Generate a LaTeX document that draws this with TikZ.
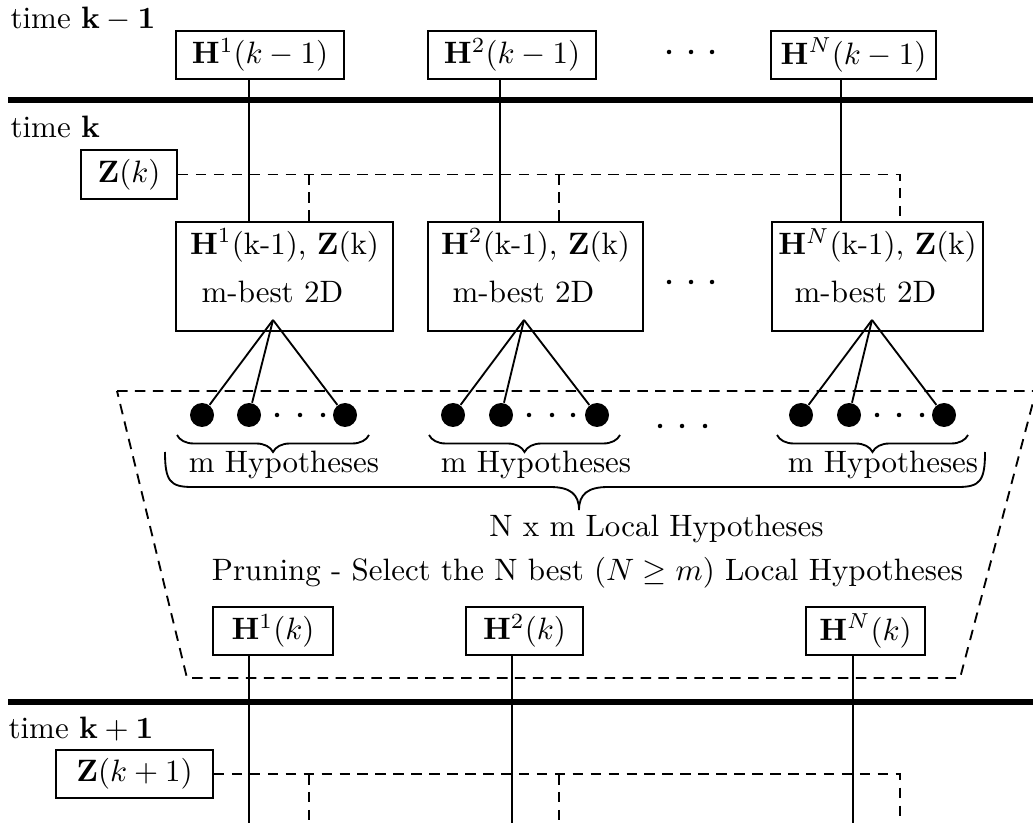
\documentclass[tikz,border=0pt]{standalone}
\usetikzlibrary{decorations.pathreplacing}
\newcommand\pxu{0.3233pt}
\tikzset{
  box/.style={draw, line width=0.6pt, inner sep=0pt, minimum height=48*\pxu},
  blk/.style={box, minimum height=109*\pxu, align=center, text depth=7pt},
  link/.style={line width=0.6pt},
  dsh/.style={line width=0.6pt, dash pattern=on 3.4pt off 2.4pt},
  bar/.style={line width=2pt},
  dot/.style={circle, fill, inner sep=0pt, minimum size=24*\pxu},
  sdot/.style={circle, fill, inner sep=0pt, minimum size=4.5*\pxu},
  brc/.style={line width=0.6pt, decorate, decoration={brace, mirror, amplitude=17*\pxu}},
  lbl/.style={inner sep=0pt, anchor=base},
}
\begin{document}
\begin{tikzpicture}[x=0.3233pt, y=-0.3233pt]
\useasboundingbox (0,0) rectangle (1033,823);
\clip (0,0) rectangle (1033,823);

% time separators
\draw[bar] (8,100) -- (1033,100);
\draw[bar] (8,702) -- (1033,702);

\node[lbl, anchor=base west] (tkm) at (10,29) {time $\mathbf{k-1}$};
\node[lbl, anchor=base west] (tk) at (10,138) {time $\mathbf{k}$};
\node[lbl, anchor=base west] (tkp) at (8,738) {time $\mathbf{k+1}$};

% hypotheses at time k-1
\node[box, minimum width=168*\pxu] (A1) at (260,55) {$\mathbf{H}^1(k-1)$};
\node[box, minimum width=168*\pxu] (A2) at (512,55) {$\mathbf{H}^2(k-1)$};
\node[box, minimum width=165*\pxu] (AN) at (853.5,55) {$\mathbf{H}^N(k-1)$};
\node[sdot] (ta) at (669,52) {};
\node[sdot] (tb) at (691,52) {};
\node[sdot] (tc) at (712,52) {};

% measurement at time k
\node[box, minimum width=96*\pxu, minimum height=49*\pxu] (Zk) at (129,174.5) {$\mathbf{Z}(k)$};

% m-best assignment blocks
\node[blk, minimum width=217*\pxu] (B1) at (284.5,276.5)
  {$\mathbf{H}^1$(k-1), $\mathbf{Z}$(k)\\[3.6pt] m-best 2D\hspace*{7.8pt}};
\node[blk, minimum width=215*\pxu] (B2) at (535.5,276.5)
  {$\mathbf{H}^2$(k-1), $\mathbf{Z}$(k)\\[3.6pt] m-best 2D\hspace*{7.8pt}};
\node[blk, minimum width=211*\pxu] (BN) at (877.5,276.5)
  {$\mathbf{H}^N$(k-1), $\mathbf{Z}$(k)\\[3.6pt] m-best 2D\hspace*{7.8pt}};
\node[sdot] (ma) at (669,282) {};
\node[sdot] (mb) at (691,282) {};
\node[sdot] (mc) at (712,282) {};

% solid links k-1 -> k
\coordinate (v1) at (249,0);
\coordinate (v2) at (500,0);
\coordinate (vN) at (841,0);
\draw[link] (A1.south -| v1) -- (B1.north -| v1);
\draw[link] (A2.south -| v2) -- (B2.north -| v2);
\draw[link] (AN.south -| vN) -- (BN.north -| vN);

% dashed measurement feed
\coordinate (x1) at (309,0);
\coordinate (x2) at (559,0);
\coordinate (xN) at (900,0);
\draw[dsh] (Zk.east) -| (BN.north -| xN);
\draw[dsh] (Zk.east -| x1) -- (B1.north -| x1);
\draw[dsh] (Zk.east -| x2) -- (B2.north -| x2);

% pruning region
\draw[dsh] (117,391) -- (1036,391) -- (960,678) -- (187,678) -- cycle;

% hypothesis fans
\coordinate (p1) at (273,320);
\coordinate (p2) at (524,320);
\coordinate (pN) at (872,320);
\node[dot] (d11) at (202,415) {};
\node[dot] (d12) at (249,415) {};
\node[dot] (d13) at (345,415) {};
\node[dot] (d21) at (453,415) {};
\node[dot] (d22) at (501,415) {};
\node[dot] (d23) at (597,415) {};
\node[dot] (dN1) at (801,415) {};
\node[dot] (dN2) at (849,415) {};
\node[dot] (dN3) at (944,415) {};
\foreach \g in {1,2,N}{
  \foreach \i in {1,2,3}{
    \draw[link] (p\g) -- (d\g\i);
  }
}
\node[sdot] (e11) at (277,415) {};
\node[sdot] (e12) at (300,415) {};
\node[sdot] (e13) at (323,415) {};
\node[sdot] (e21) at (529,415) {};
\node[sdot] (e22) at (552,415) {};
\node[sdot] (e23) at (573,415) {};
\node[sdot] (eN1) at (877,415) {};
\node[sdot] (eN2) at (899,415) {};
\node[sdot] (eN3) at (922,415) {};
\node[sdot] (ga) at (660,426) {};
\node[sdot] (gb) at (682,426) {};
\node[sdot] (gc) at (705,426) {};

% group braces
\draw[brc] (177,435) -- (369,435);
\draw[brc] (429,435) -- (620,435);
\draw[brc] (777,435) -- (968,435);
\node[lbl] (h1) at (284,473) {m Hypotheses};
\node[lbl] (h2) at (536,473) {m Hypotheses};
\node[lbl] (hN) at (883,473) {m Hypotheses};

% overall brace
\draw[link] (165,452) .. controls (165,481) and (170,487) .. (192,487)
  -- (550,487) .. controls (570,487) and (579,494) .. (579,510)
  .. controls (579,494) and (588,487) .. (608,487)
  -- (958,487) .. controls (980,487) and (985,481) .. (985,452);
\node[lbl] (nm) at (656.5,536) {N x m Local Hypotheses};
\node[lbl] (pr) at (587.5,580) {Pruning - Select the N best $(N \geq m)$ Local Hypotheses};

% surviving hypotheses at time k
\node[box, minimum width=120*\pxu] (C1) at (273,631) {$\mathbf{H}^1(k)$};
\node[box, minimum width=117*\pxu] (C2) at (524.5,631) {$\mathbf{H}^2(k)$};
\node[box, minimum width=119*\pxu] (CN) at (865.5,631) {$\mathbf{H}^N(k)$};
\coordinate (w1) at (249,823);
\coordinate (w2) at (512,823);
\coordinate (wN) at (853,823);
\draw[link] (C1.south -| w1) -- (w1);
\draw[link] (C2.south -| w2) -- (w2);
\draw[link] (CN.south -| wN) -- (wN);

% measurement at time k+1
\node[box, minimum width=157*\pxu] (Zk1) at (134.5,774) {$\mathbf{Z}(k+1)$};
\coordinate (q1) at (309,823);
\coordinate (q2) at (559,823);
\coordinate (qN) at (900,823);
\draw[dsh] (Zk1.east) -| (qN);
\draw[dsh] (Zk1.east -| q1) -- (q1);
\draw[dsh] (Zk1.east -| q2) -- (q2);
\end{tikzpicture}
\end{document}
